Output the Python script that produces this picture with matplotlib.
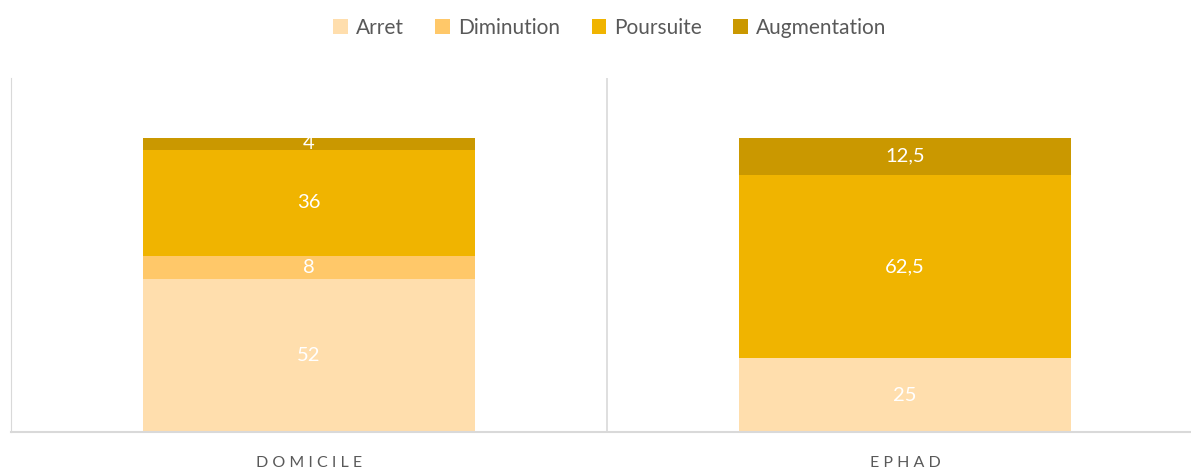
import numpy as np
import matplotlib.pyplot as plt

categories = ["DOMICILE", "EPHAD"]
series = ["Arret", "Diminution", "Poursuite", "Augmentation"]
arret = [52, 25]
diminution = [8, 0]
poursuite = [36, 62.5]
augmentation = [4, 12.5]
colors = ["#FFDEAD", "#FFC869", "#F0B400", "#CA9800"]

plt.rcParams["font.family"] = ["Lato", "DejaVu Sans"]

fig = plt.figure(figsize=(11.91, 4.69), dpi=100)
ax = fig.add_axes([11 / 1191, 37 / 469, 1180 / 1191, 354 / 469])

x = np.arange(len(categories))
bottom = np.zeros(len(categories))
for name, vals, c in zip(series, [arret, diminution, poursuite, augmentation], colors):
    vals = np.array(vals, dtype=float)
    ax.bar(x, vals, 0.557, bottom=bottom, color=c, label=name)
    for xi, v, b in zip(x, vals, bottom):
        if v > 0:
            txt = ("%g" % v).replace(".", ",")
            ax.text(xi, b + v / 2, txt, ha="center", va="center",
                    color="white", fontsize=14.5)
    bottom += vals

ax.set_xlim(-0.5, 1.48)
ax.set_ylim(0, 120.4)
ax.axvline(0.5, color="#D9D9D9", lw=1.2)
ax.set_yticks([])
ax.set_xticks(x)
ax.set_xticklabels([" ".join(c) for c in categories], color="#595959", fontsize=11.5)
ax.tick_params(axis="x", length=0, pad=17)
for s in ["top", "right"]:
    ax.spines[s].set_visible(False)
ax.spines["left"].set_color("#D9D9D9")
ax.spines["bottom"].set_color("#D9D9D9")
ax.spines["bottom"].set_linewidth(1.5)

fig.legend(loc="center", bbox_to_anchor=(610 / 1191, 1 - 28 / 469), ncol=4,
           frameon=False, fontsize=15, handlelength=0.7, handleheight=0.7,
           handletextpad=0.4, columnspacing=1.5, labelcolor="#595959")

fig.savefig("out.png", dpi=100)
